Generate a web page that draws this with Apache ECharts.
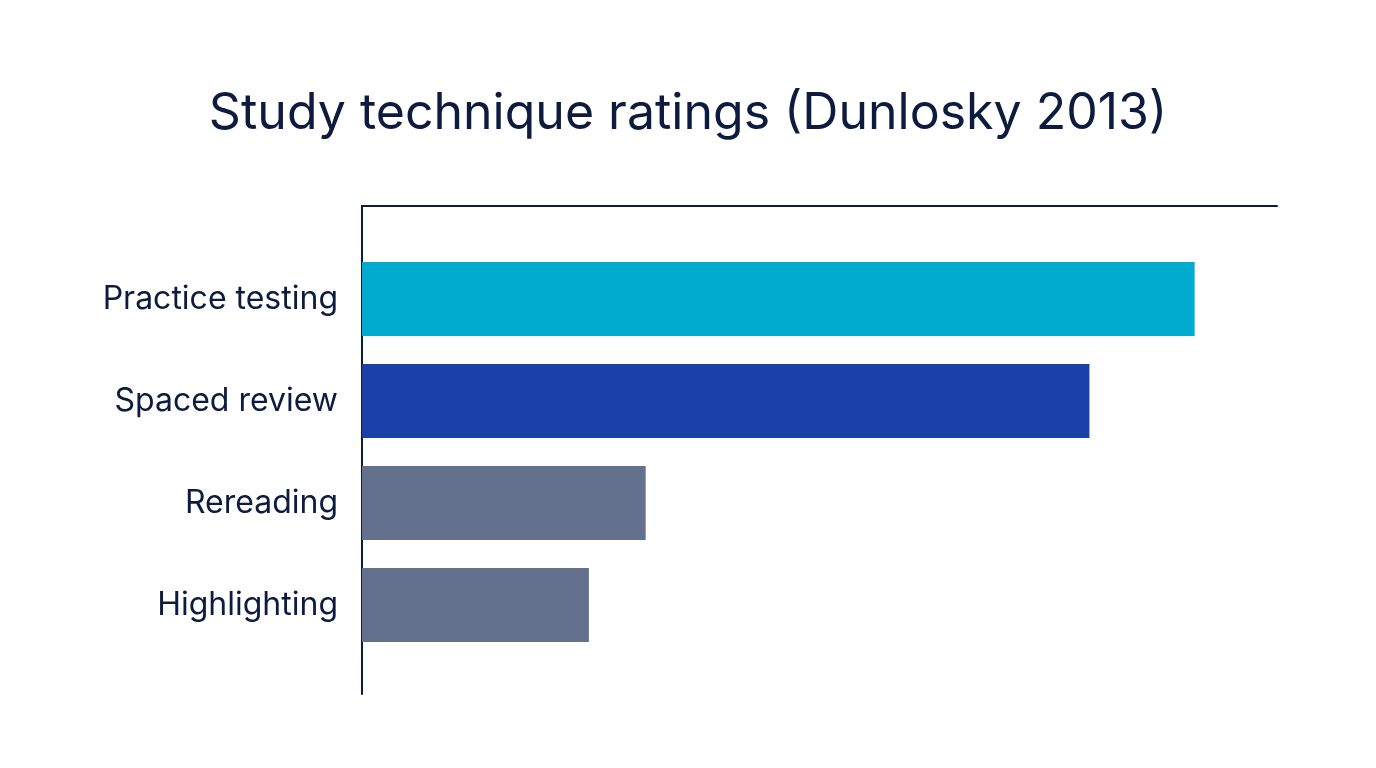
<!DOCTYPE html>
<html>
<head>
<meta charset="utf-8">
<script src="https://cdn.jsdelivr.net/npm/echarts@6/dist/echarts.min.js"></script>
<style>
  html, body { margin: 0; padding: 0; background: #fff; }
  #chart { width: 1376px; height: 768px; }
</style>
</head>
<body>
<div id="chart"></div>
<script>
const categories = ['Practice testing', 'Spaced review', 'Rereading', 'Highlighting']
const ratings = [91, 79.5, 31, 24.8]
const barColors = ['#00abd0', '#1b40a8', '#64718d', '#64718d']

const ink = '#0d1b3e'

const chart = echarts.init(document.getElementById('chart'))

chart.setOption({
  backgroundColor: '#ffffff',
  animation: false,
  title: {
    text: 'Study technique ratings (Dunlosky 2013)',
    left: 'center',
    top: 84,
    textStyle: {
      fontFamily: 'Inter',
      fontSize: 50,
      fontWeight: 'normal',
      color: ink,
    },
  },
  grid: [
    // bars
    { left: 362, right: 99, top: 248, bottom: 112 },
    // frame lines
    { left: 362, right: 99, top: 206, bottom: 74 },
  ],
  xAxis: [
    {
      gridIndex: 0,
      type: 'value',
      min: 0,
      max: 100,
      show: false,
    },
    {
      gridIndex: 1,
      type: 'value',
      position: 'top',
      min: 0,
      max: 100,
      axisLine: { show: true, onZero: false, lineStyle: { color: ink, width: 2 } },
      axisTick: { show: false },
      axisLabel: { show: false },
      splitLine: { show: false },
    },
  ],
  yAxis: [
    {
      gridIndex: 0,
      type: 'category',
      inverse: true,
      data: categories,
      axisLine: { show: false },
      axisTick: { show: false },
      axisLabel: {
        margin: 24,
        fontFamily: 'Inter',
        fontSize: 32,
        color: ink,
      },
    },
    {
      gridIndex: 1,
      type: 'value',
      min: 0,
      max: 1,
      axisLine: { show: true, onZero: false, lineStyle: { color: ink, width: 2 } },
      axisTick: { show: false },
      axisLabel: { show: false },
      splitLine: { show: false },
    },
  ],
  series: [
    {
      type: 'bar',
      xAxisIndex: 0,
      yAxisIndex: 0,
      barWidth: 74,
      data: ratings.map((v, i) => ({ value: v, itemStyle: { color: barColors[i] } })),
    },
  ],
})
</script>
</body>
</html>
